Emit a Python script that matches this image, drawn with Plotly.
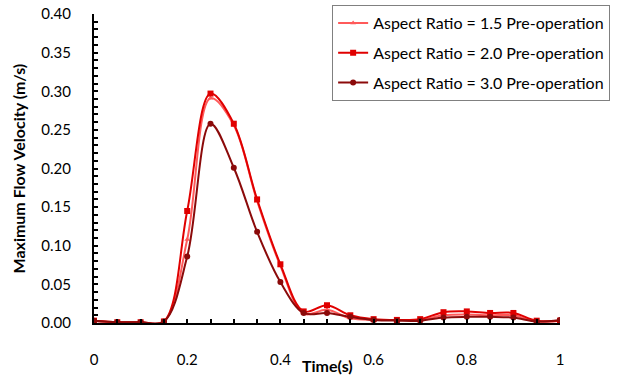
import plotly.graph_objects as go

time_s = [0, 0.05, 0.1, 0.15, 0.2, 0.25, 0.3, 0.35, 0.4, 0.45, 0.5,
          0.55, 0.6, 0.65, 0.7, 0.75, 0.8, 0.85, 0.9, 0.95, 1.0]
ar15 = [0.003, 0.001, 0.001, 0.002, 0.108, 0.291, 0.256, 0.158, 0.074, 0.012, 0.017,
        0.006, 0.004, 0.004, 0.004, 0.010, 0.011, 0.010, 0.010, 0.002, 0.003]
ar20 = [0.003, 0.001, 0.001, 0.002, 0.145, 0.297, 0.258, 0.160, 0.076, 0.015, 0.023,
        0.010, 0.005, 0.004, 0.005, 0.014, 0.015, 0.013, 0.013, 0.003, 0.003]
ar30 = [0.003, 0.001, 0.001, 0.002, 0.086, 0.258, 0.201, 0.118, 0.053, 0.013, 0.013,
        0.008, 0.004, 0.003, 0.003, 0.007, 0.008, 0.008, 0.007, 0.002, 0.004]

names = ["Aspect Ratio = 1.5 Pre-operation",
         "Aspect Ratio = 2.0 Pre-operation",
         "Aspect Ratio = 3.0 Pre-operation"]
colors = ["#FF5A5A", "#E00000", "#8B0A0A"]
symbols = ["triangle-up", "square", "circle"]
sizes = [5, 6, 6]

fig = go.Figure()
for i, ys in enumerate([ar15, ar20, ar30]):
    fig.add_trace(go.Scatter(
        x=time_s, y=ys, name=names[i], mode="lines+markers",
        line=dict(color=colors[i], width=2, shape="spline", smoothing=1),
        marker=dict(symbol=symbols[i], size=sizes[i], color=colors[i]),
        legendgroup=str(i),
    ))

font = "Lato, 'Open Sans', sans-serif"
fig.update_layout(
    width=628, height=385,
    margin=dict(l=94, r=68, t=14, b=62, autoexpand=False),
    paper_bgcolor="white", plot_bgcolor="white",
    font=dict(family=font, size=15, color="black"),
    showlegend=True,
    legend=dict(x=0.511, y=1.029, xanchor="left", yanchor="top",
                bordercolor="#808080", borderwidth=1, bgcolor="white",
                font=dict(size=16, family=font), tracegroupgap=6,
                itemwidth=30),
    xaxis=dict(range=[0, 1], dtick=0.2, tick0=0, showgrid=False, zeroline=False,
               showline=True, linecolor="black", linewidth=2,
               ticks="inside", ticklen=4, tickcolor="black", tickwidth=2,
               tickformat="~g", ticklabelstandoff=22,
               minor=dict(dtick=0.05, ticks="inside", ticklen=4, tickcolor="black", tickwidth=2)),
    yaxis=dict(range=[0, 0.40], dtick=0.05, tick0=0, showgrid=False, zeroline=False,
               showline=True, linecolor="black", linewidth=2,
               ticks="inside", ticklen=4, tickcolor="black", tickwidth=2,
               tickformat=".2f", ticklabelstandoff=18,
               minor=dict(dtick=0.01, ticks="inside", ticklen=4, tickcolor="black", tickwidth=1.5)),
    annotations=[
        dict(text="<b>Time(s)</b>", xref="paper", yref="paper", x=0.5, y=-42 / 309,
             xanchor="center", yanchor="middle", showarrow=False, font=dict(size=16)),
        dict(text="<b>Maximum Flow Velocity (m/s)</b>", xref="paper", yref="paper",
             x=-76 / 466, y=0.5, xanchor="center", yanchor="middle", textangle=-90,
             showarrow=False, font=dict(size=16)),
    ],
)

fig.write_html("out.html")
